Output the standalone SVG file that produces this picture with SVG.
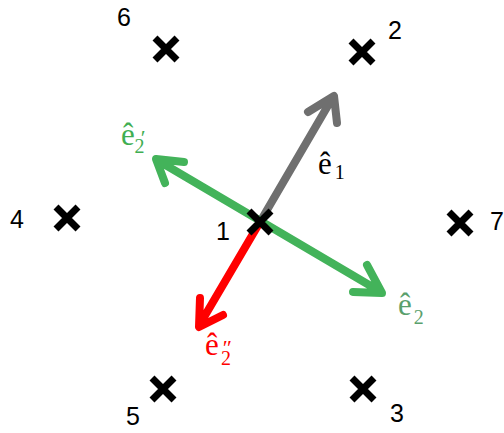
<svg xmlns="http://www.w3.org/2000/svg" width="504" height="433" viewBox="0 0 504 433">
<style>
.x{stroke:#000;stroke-width:7;stroke-linecap:butt}
.n{font-family:"Liberation Sans",Arial,sans-serif;font-size:25px;fill:#000}
.v{fill:none;stroke-width:8;stroke-linecap:round;stroke-linejoin:round}
.m{font-family:"Liberation Serif","Times New Roman",serif;font-size:31px}
</style>
<defs>
<path id="cr" d="M-11,-11L11,11M11,-11L-11,11"/>
</defs>
<rect width="504" height="433" fill="#fff"/>
<g id="connectors">
<path class="v" stroke="#6f6f6f" d="M260,222L333,97M308,112L334,96L337,123"/>
<path class="v" stroke="#43b35a" d="M157,160L381,292M184,162L156,159L165,183M353,292L382,293L367,265"/>
<path class="v" stroke="#ff0000" d="M260,222L200,324M223,315L199,327L200,298"/>
</g>
<g id="n1"><use href="#cr" class="x" x="260" y="222"/><text class="n" x="216" y="240">1</text></g>
<g id="n2"><use href="#cr" class="x" x="362" y="52"/><text class="n" x="388" y="39">2</text></g>
<g id="n3"><use href="#cr" class="x" x="363" y="389"/><text class="n" x="390" y="422">3</text></g>
<g id="n4"><use href="#cr" class="x" x="67" y="218"/><text class="n" x="10" y="228">4</text></g>
<g id="n5"><use href="#cr" class="x" x="163" y="389"/><text class="n" x="126" y="425">5</text></g>
<g id="n6"><use href="#cr" class="x" x="166" y="49"/><text class="n" x="117" y="26">6</text></g>
<g id="n7"><use href="#cr" class="x" x="460" y="223"/><text class="n" x="490" y="230">7</text></g>
<g id="labels">
<text class="m" fill="#3fae52" x="121" y="145">ê<tspan font-size="22" dx="6">′</tspan><tspan font-size="20" dx="-11" dy="8">2</tspan></text>
<text class="m" fill="#000" x="318" y="174">ê<tspan font-size="20" dx="3" dy="5">1</tspan></text>
<text class="m" fill="#5a9f6c" x="398" y="315">ê<tspan font-size="20" dx="2" dy="9">2</tspan></text>
<text class="m" fill="#ff0000" x="205" y="355">ê<tspan font-size="22" dx="4">″</tspan><tspan font-size="20" dx="-11" dy="10">2</tspan></text>
</g>
</svg>
